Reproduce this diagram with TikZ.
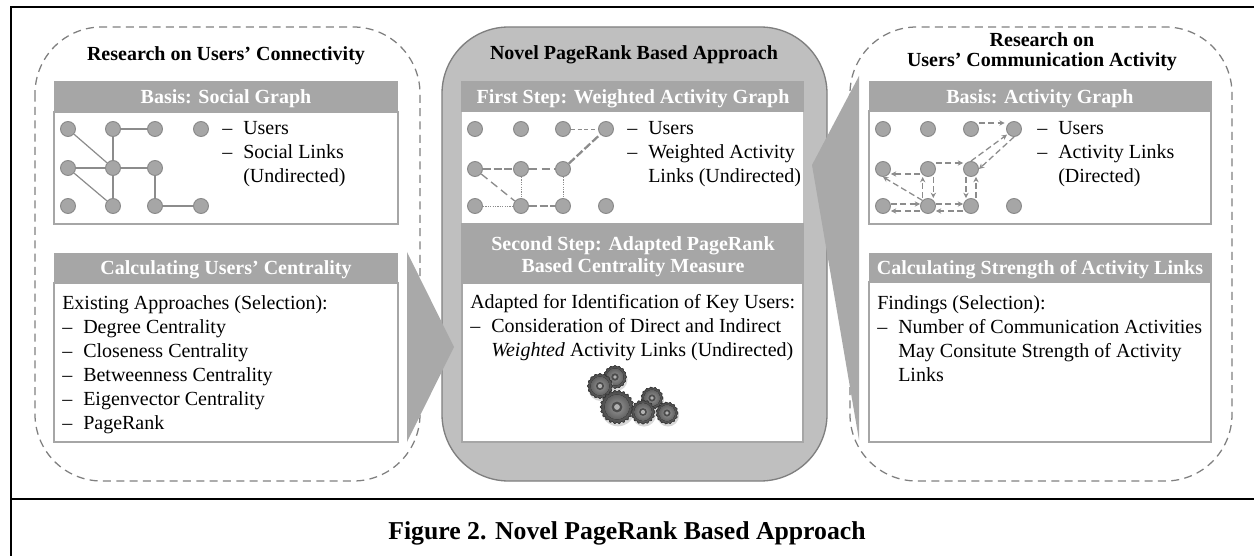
\documentclass[tikz,border=0pt]{standalone}
\usepackage{fontspec}
\setmainfont{Liberation Serif}
\usetikzlibrary{arrows.meta,calc}
\definecolor{hd}{HTML}{A6A6A6}
\definecolor{ctr}{HTML}{BFBFBF}
\definecolor{edgeg}{HTML}{7F7F7F}
\definecolor{dashg}{HTML}{808080}
\definecolor{arrowg}{HTML}{A9A9A9}
\definecolor{nodeb}{HTML}{8A8A8A}
\definecolor{linkg}{HTML}{8C8C8C}
\newcommand{\dd}{\makebox[15.75pt][l]{–}}
\newcommand{\ddc}{\hspace*{15.75pt}}
\newcommand{\gearat}[4]{%
  \fill[black!25,opacity=.6] (#1+1,#2+2.5) circle[radius=#3*1.05];
  \fill[draw=black!80,line width=.3pt,inner color=black!45,outer color=black!72]
    plot[domain=0:360,samples=#4*4+1] ({#1+#3*(1+.06*cos(\x*#4*1.0))*cos(\x)},{#2+#3*(1+.06*cos(\x*#4*1.0))*sin(\x)}) -- cycle;
  \fill[black!68] (#1,#2) circle[radius=#3*.84];
  \fill[inner color=black!40,outer color=black!62] (#1,#2) circle[radius=#3*.78];
  \fill[black!70] (#1,#2) circle[radius=#3*.34];
  \fill[black!30] (#1,#2) circle[radius=#3*.18];
}
\tikzset{
  x=0.75pt,y=-0.75pt,
  usr/.style={circle,draw=nodeb,fill=hd,line width=.75pt,minimum size=11.2pt,inner sep=0pt},
  hbar/.style={fill=hd,draw=none},
  bodybox/.style={fill=white,draw=hd,line width=.9pt},
  hdtxt/.style={text=white,font=\bfseries\fontsize{15}{16.5}\selectfont,align=center,inner sep=0pt},
  title/.style={text=black,font=\bfseries\fontsize{15}{15}\selectfont,align=center,inner sep=0pt},
  bodytxt/.style={text=black,font=\fontsize{15}{18}\selectfont,align=left,anchor=north west,inner sep=0pt},
  dashbox/.style={draw=dashg,line width=.95pt,dash pattern=on 6pt off 4pt,rounded corners=50pt},
  solidlink/.style={draw=linkg,line width=.9pt},
  dotlink/.style={draw=linkg,line width=.6pt,dash pattern=on .9pt off .9pt},
  thinlink/.style={draw=linkg,line width=.7pt,dash pattern=on 3pt off 2pt},
  medlink/.style={draw=linkg,line width=1pt,dash pattern=on 6pt off 3.5pt},
  thicklink/.style={draw=linkg,line width=1.7pt,dash pattern=on 6pt off 2pt},
  dirlink/.style={draw=linkg,line width=.95pt,dash pattern=on 4.5pt off 2.5pt,-{Stealth[length=4pt,width=4pt,sep=0pt]}},
}
\begin{document}
\begin{tikzpicture}
\useasboundingbox (0,0) rectangle (1254,556);
\fill[white] (0,0) rectangle (1254,556);
% frame
\draw[black,line width=1.6pt] (11,560) -- (11,7) -- (1258,7);
\draw[black,line width=1.6pt] (11,499) -- (1258,499);
% outer rounded shapes
\draw[dashbox] (35,27) rectangle (420,481);
\draw[dashbox] (850,27) rectangle (1232,481);
\draw[draw=edgeg,fill=ctr,line width=1pt,rounded corners=50pt] (442,27) rectangle (827,481);
% left boxes
\draw[bodybox] (54,112) rectangle (398,224);
\fill[hbar] (54,81) rectangle (398,112);
\draw[bodybox] (54,283) rectangle (398,442);
\fill[hbar] (54,253) rectangle (398,283);
% centre boxes
\fill[white] (462,112) rectangle (803,223);
\fill[hbar] (461,81) rectangle (804,112);
\fill[hbar] (461,223) rectangle (804,283);
\draw[bodybox] (462,283) rectangle (803,442);
% right boxes
\draw[bodybox] (869,111) rectangle (1211,224);
\fill[hbar] (868.5,81) rectangle (1211.5,111);
\draw[bodybox] (869,282) rectangle (1211,442);
\fill[hbar] (868.5,253) rectangle (1211.5,282);
% block arrows
\fill[arrowg] (407,252) -- (454,347) -- (407,442) -- cycle;
\fill[arrowg] (859,76) -- (812,165) -- (859,440) -- cycle;
% titles
\node[title] (t1) at (226,56) {Research on Users’ Connectivity};
\node[title] (t2) at (634,55) {Novel PageRank Based Approach};
\node[title] (t3) at (1042,52) {Research on\\Users’ Communication Activity};
% headers
\node[hdtxt] (h1) at (226,99) {Basis: Social Graph};
\node[hdtxt] (h2) at (226,270) {Calculating Users’ Centrality};
\node[hdtxt] (h3) at (633,99) {First Step: Weighted Activity Graph};
\node[hdtxt] (h4) at (633,256.5) {Second Step: Adapted PageRank\\Based Centrality Measure};
\node[hdtxt] (h5) at (1040,99) {Basis: Activity Graph};
\node[hdtxt] (h6) at (1040,270) {Calculating Strength of Activity Links};
% body text
\node[bodytxt] (b1) at (222,121) {\dd Users\\\dd Social Links\\\ddc (Undirected)};
\node[bodytxt] (b2) at (627,121) {\dd Users\\\dd Weighted Activity\\\ddc Links (Undirected)};
\node[bodytxt] (b3) at (1037,121) {\dd Users\\\dd Activity Links\\\ddc (Directed)};
\node[bodytxt] (b4) at (62,295) {Existing Approaches (Selection):\\\dd Degree Centrality\\\dd Closeness Centrality\\\dd Betweenness Centrality\\\dd Eigenvector Centrality\\\dd PageRank};
\node[bodytxt] (b5) at (470,294) {Adapted for Identification of Key Users:\\\dd Consideration of Direct and Indirect\\\ddc \textit{Weighted} Activity Links (Undirected)};
\node[bodytxt] (b6) at (877,295) {Findings (Selection):\\\dd Number of Communication Activities\\\ddc May Consitute Strength of Activity\\\ddc Links};
% left graph
\foreach \n/\x/\y in {a/68/129,b/113/129,c/155/129,d/201/129,e/68/168,f/113/168,g/155/168,h/68/206,i/113/206,j/155/206,k/201/206}
  \node[usr] (l\n) at (\x,\y) {};
\foreach \p/\q in {la/lf,lb/lc,lb/lf,le/lf,lf/lg,lf/li,le/li,lg/lj,lj/lk}
  \draw[solidlink] (\p) -- (\q);
% centre graph
\foreach \n/\x/\y in {a/475/129,b/521/129,c/563/129,d/606/129,e/475/169,f/521/169,g/563/169,h/475/206,i/521/206,j/563/206,k/606/206}
  \node[usr] (m\n) at (\x,\y) {};
\draw[thinlink] (mc) -- (md);
\draw[thicklink] (me) -- (mf);
\draw[medlink] (mf) -- (mg);
\draw[thicklink] (mg) -- (md);
\draw[medlink] (me) -- (mi);
\draw[dotlink] (mf) -- (mi);
\draw[dotlink] (mg) -- (mj);
\draw[dotlink] (mh) -- (mi);
\draw[thicklink] (mi) -- (mj);
% right graph
\foreach \n/\x/\y in {a/883/129,b/928/129,c/971/129,d/1014/129,e/883/169,f/928/169,g/971/169,h/883/206,i/928/206,j/971/206,k/1014/206}
  \node[usr] (r\n) at (\x,\y) {};
\draw[dirlink] ([yshift=4.5pt]rc.east) -- ([xshift=-1pt,yshift=4.5pt]rd.west);
\draw[dirlink] (rg.north) -- ([xshift=-1pt]rd.south west);
\draw[dirlink] (rd.south) -- (rg.east);
\draw[dirlink] ([yshift=4.5pt]rf.east) -- ([yshift=4.5pt]rg.west);
\draw[dirlink] ([yshift=-3.75pt]rf.west) -- ([yshift=-3.75pt]re.east);
\draw[dirlink] (ri.north west) -- (re.south);
\draw[dirlink] ([xshift=-4pt]ri.north) -- ([xshift=-4pt]rf.south);
\draw[dirlink] ([xshift=4pt]rf.south) -- ([xshift=4pt]ri.north);
\draw[dirlink] ([xshift=-3.75pt]rg.south) -- ([xshift=-3.75pt]rj.north);
\draw[dirlink] ([xshift=3.75pt]rj.north) -- ([xshift=3.75pt]rg.south);
\draw[dirlink] ([yshift=1.5pt]rh.east) -- ([yshift=1.5pt]ri.west);
\draw[dirlink] ([yshift=-3.75pt]ri.west) -- ([yshift=-3.75pt]rh.east);
\draw[dirlink] ([yshift=1.5pt]ri.east) -- ([yshift=1.5pt]rj.west);
\draw[dirlink] ([yshift=-3.75pt]rj.west) -- ([yshift=-3.75pt]ri.east);
% gears
\gearat{615}{377}{11}{16}
\gearat{600}{386}{12}{16}
\gearat{617}{407}{16}{22}
\gearat{652}{398}{10.5}{15}
\gearat{667}{413}{10.5}{15}
\gearat{643}{412}{11.5}{16}
% caption
\node[font=\bfseries\fontsize{19.3}{22}\selectfont,inner sep=0pt] (cap) at (627,533) {Figure 2. Novel PageRank Based Approach};
\end{tikzpicture}
\end{document}
